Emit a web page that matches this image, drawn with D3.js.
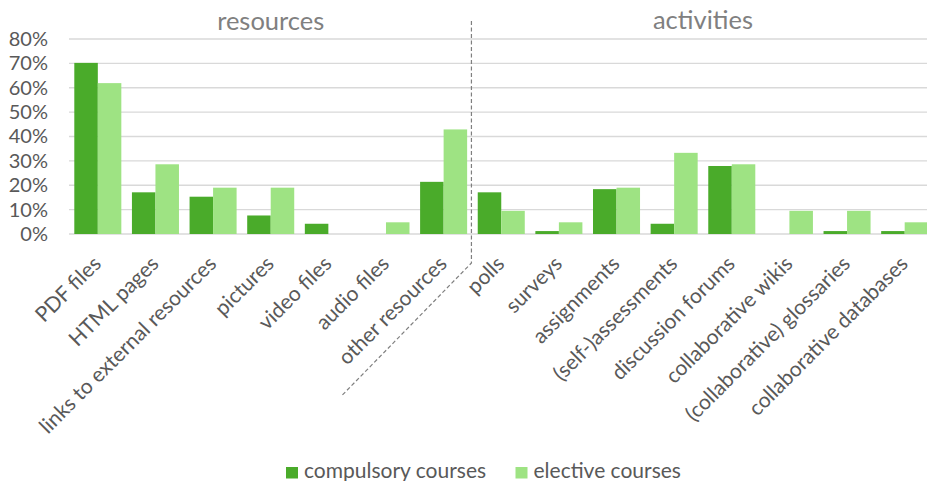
<!DOCTYPE html>
<html>
<head>
<meta charset="utf-8">
<script src="https://cdn.jsdelivr.net/npm/d3@7"></script>
<style>
  html, body { margin: 0; padding: 0; background: #fff; }
  svg { display: block; font-family: Lato, "Open Sans", sans-serif; }
</style>
</head>
<body>
<svg id="chart" width="927" height="481"></svg>
<script>
// ---- data ----
const categories = [
  "PDF files", "HTML pages", "links to external resources", "pictures", "video files",
  "audio files", "other resources", "polls", "surveys", "assignments",
  "(self-)assessments", "discussion forums", "collaborative wikis",
  "(collaborative) glossaries", "collaborative databases"
];
const compulsory = [0.702, 0.171, 0.153, 0.076, 0.042, 0, 0.214, 0.171, 0.012, 0.184, 0.042, 0.279, 0, 0.012, 0.012];
const elective   = [0.619, 0.286, 0.190, 0.190, 0, 0.048, 0.429, 0.095, 0.048, 0.190, 0.333, 0.286, 0.095, 0.095, 0.048];
const seriesNames = ["compulsory courses", "elective courses"];
const groupNames = ["resources", "activities"];
const groupSizes = [7, 8];
const yTicks = [0, 0.1, 0.2, 0.3, 0.4, 0.5, 0.6, 0.7, 0.8];

// ---- styles ----
const colors = ["#4aab2a", "#9ee383"];
const textColor = "#595959";
const titleColor = "#808080";
const gridColor = "#d9d9d9";
const labelSize = "21px";

const svg = d3.select("#chart");

const plotLeft = 69, plotRight = 933.5, plotTop = 39, plotBottom = 234;

const x = d3.scaleBand().domain(categories).range([plotLeft, plotRight])
  .paddingInner(0.184).paddingOuter(0.092);
const xs = d3.scaleBand().domain([0, 1]).range([0, x.bandwidth()]);
const y = d3.scaleLinear().domain([0, 0.8]).range([plotBottom, plotTop]);

// grid lines
svg.append("g").selectAll("line").data(yTicks).join("line")
  .attr("x1", plotLeft).attr("x2", plotRight)
  .attr("y1", d => y(d)).attr("y2", d => y(d))
  .attr("stroke", gridColor).attr("stroke-width", 1.3);

// y axis labels
const yAxis = d3.axisLeft(y).tickValues(yTicks).tickFormat(d3.format(".0%")).tickSize(0).tickPadding(0);
const yg = svg.append("g").attr("transform", `translate(48,0)`).call(yAxis);
yg.select(".domain").remove();
yg.selectAll("text").attr("fill", textColor).style("font-size", "20px").style("font-family", "Lato");

// bars
const series = [compulsory, elective];
series.forEach((vals, si) => {
  svg.append("g").selectAll("rect").data(vals).join("rect")
    .attr("x", (d, i) => x(categories[i]) + xs(si))
    .attr("width", xs.bandwidth())
    .attr("y", d => y(d))
    .attr("height", d => y(0) - y(d))
    .attr("fill", colors[si]);
});

// category labels
const xg = svg.append("g");
xg.selectAll("text").data(categories).join("text")
  .attr("transform", d => `translate(${x(d) + x.bandwidth() / 2 - 1.5},${plotBottom + 25}) rotate(-45)`)
  .attr("text-anchor", "end")
  .attr("dominant-baseline", "central")
  .attr("fill", textColor)
  .style("font-size", labelSize)
  .text(d => d);

// group titles
let start = 0;
const titleBaselines = [30, 28.5];
groupNames.forEach((g, gi) => {
  const first = categories[start];
  const last = categories[start + groupSizes[gi] - 1];
  const left = x(first) - x.step() * x.paddingInner() / 2;
  const right = x(last) + x.bandwidth() + x.step() * x.paddingInner() / 2;
  svg.append("text")
    .attr("x", (left + right) / 2).attr("y", titleBaselines[gi])
    .attr("text-anchor", "middle")
    .attr("fill", titleColor)
    .style("font-size", "25.5px")
    .text(g);
  start += groupSizes[gi];
});

// divider (dashed polyline)
const divX = x(categories[groupSizes[0]]) - x.step() * x.paddingInner() / 2 - 1;
const divPts = [[divX, 21], [divX, 263], [divX - 130, 396]];
svg.append("path")
  .attr("d", d3.line()(divPts))
  .attr("fill", "none")
  .attr("stroke", "#7f7f7f")
  .attr("stroke-width", 1.2)
  .attr("stroke-dasharray", "4,2.5");

// legend
const legendX = [286, 515.5];
const lg = svg.append("g");
seriesNames.forEach((name, i) => {
  lg.append("rect").attr("x", legendX[i]).attr("y", 467).attr("width", 12).attr("height", 11.5).attr("fill", colors[i]);
  lg.append("text").attr("x", legendX[i] + 18).attr("y", 478)
    .attr("fill", textColor).style("font-size", labelSize).text(name);
});
</script>
</body>
</html>
